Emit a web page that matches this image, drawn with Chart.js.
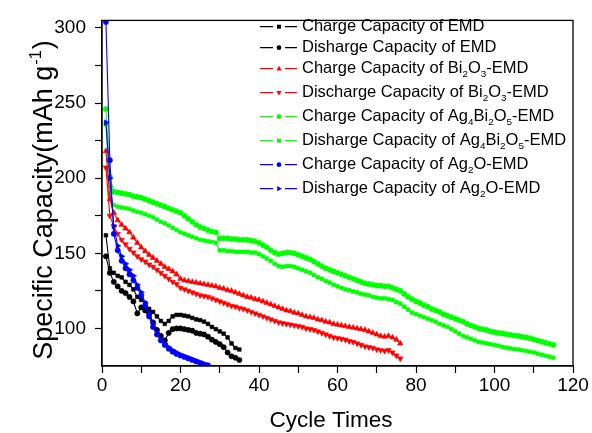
<!DOCTYPE html>
<html><head><meta charset="utf-8">
<script src="https://cdn.jsdelivr.net/npm/chart.js@4.4.1/dist/chart.umd.min.js"></script>
<style>html,body{margin:0;padding:0;background:#fff;}#wrap{width:592px;height:433px;position:relative;}</style>
</head><body>
<div id="wrap"><canvas id="c" width="592" height="433"></canvas></div>
<script>
// ---- data ----
const seriesLabels = [
  'Charge Capacity of EMD',
  'Disharge Capacity of EMD',
  'Charge Capacity of Bi₂O₃-EMD',
  'Discharge Capacity of Bi₂O₃-EMD',
  'Charge Capacity of Ag₄Bi₂O₅-EMD',
  'Disharge Capacity of Ag₄Bi₂O₅-EMD',
  'Charge Capacity of Ag₂O-EMD',
  'Disharge Capacity of Ag₂O-EMD'
];
const emdCharge = [162,140,137,135,134,131,129,126,121,119,117,113,111,108,105,103,105,108,109,109,108.5,108,107,106,105.5,104.5,103,101,99.5,98,96.5,94,90,87,86];
const emdDischarge = [148,137,131,128,125,123.5,121,118,110,114,112,110,104,99,95,92,97,99.5,100,100,99.5,99,98.5,97,96.5,96,94.5,92.5,91,89.5,87.5,84,81.5,80.5,79];
const biCharge = [218,186,177,172,169,166.5,164,160.5,157,154,151.5,149,147,145,143,141,139.5,138,136,133,132,131.5,131,130.5,130,129.5,129,128.5,128,127,126.5,125.5,125,124,123,122,121,120.5,119.5,119,118,117,116,115,114,113,112,111.5,110.5,110,109,108,107.5,107,106,105.5,104.5,104,103,102.5,102,101.5,101,100.5,100,99.5,99,98,97,96,95,94.5,95,94,92.5,90];
const biDischarge = [207,175,168,163,159,156,153,150.5,148,146,144.5,142.5,141,139,137,135,133,131,129.5,127,126,125,124,123,122,121.5,121,120,119,118,117,116,115,114.5,113.5,113,112,111,110,109,108,107,106,105,104,103.5,103,102.5,102,101.5,101,100,99.5,99,98,97,96,95,94,93.5,93,92.5,91.5,91,90,89,88,87.5,87,86,85.5,85,85.5,84,82,80];
const agBiCharge = [246,201,191,190.5,190,189.5,189,188,187.5,187,186,185,184,183,182,181,180,179,178,177,175,173,171,169,167.5,166.5,165.5,164.5,164,160,160,160,159.5,159.5,159,159,159,158.5,158,157,155.5,154,152,150.5,149.5,150,150.5,150.5,150,149,148,147,146,144.5,143,141.5,140,139,138,137,136,135,134,133,132,131,130,129.5,129,128.5,128.5,128,128,127,126,125,123,121,119.5,118,117,115.5,114.5,113,112,111,109.5,108.5,107.5,106.5,105.5,104.5,103,102,101,100,99.5,99,98,97.5,97,96.7,96.2,95.8,95.3,95,94.5,94,93.5,92.7,92,91.2,90.5,89.8,89];
const agBiDischarge = [236,190,182,181,180.5,180,179.5,178.5,177.5,177,176,175,174,172.5,171,170,168.5,167,165.5,164,163,162,161,160,159,158.5,158,157.5,157,152,152,151.5,151.5,151,151,151,151,150.5,150.5,149.5,148,146.5,145,143,141.5,141,141.5,141.5,141,140,139,138,137,135.5,134,133,131.5,130.5,129,128,127,126,125.5,124.5,124,123,122.5,122,121,120.5,120,120,119.5,119,117.5,116.5,114.5,112.5,110.5,109.5,108.5,107.5,106.5,105.5,104.5,103,102,101,99.5,98,96.5,95,94,93,92,91,90.5,90,89.5,89,88.5,87.7,87.2,86.7,86.2,86,85.5,85,84.5,84,83.2,82.5,81.8,81.2,80.5];
const agCharge = [304,212,163,152,145,140,136,132,127,122,115,108,101,96,92,89,86.5,84.5,83,82,81,80,79,78,77,76,75.5];
const agDischarge = [237,200,168,155,148,143,139,135,129,124,117,110,103,97,93,90,87.5,85.5,84,82.5,81.5,80.5,79.5,78.5,77.5,76.5,75.5];

const xTickValues = [0,10,20,30,40,50,60,70,80,90,100,110,120];
const xTickLabels = ['0','','20','','40','','60','','80','','100','','120'];
const yTickValues = [100,125,150,175,200,225,250,275,300];
const yTickLabels = ['100','','150','','200','','250','','300'];
const xTitle = 'Cycle Times';
const yTitleMain = 'Specific Capacity(mAh g';
const yTitleSup = '-1';
const yTitleTail = ')';

// ---- styling ----
const FONT = '"Liberation Sans", Arial, Helvetica, sans-serif';
const styles = [
  {color:'#000000', point:'rect', rot:0, r:2.6, order:5},
  {color:'#000000', point:'circle', rot:0, r:2.6, order:6},
  {color:'#ff0000', point:'triangle', rot:0, r:3.2, order:3},
  {color:'#ff0000', point:'triangle', rot:180, r:3.2, order:4},
  {color:'#00ff00', point:'circle', rot:0, r:2.6, order:7},
  {color:'#00ff00', point:'rect', rot:0, r:2.6, order:8},
  {color:'#0000ff', point:'circle', rot:0, r:2.6, order:1},
  {color:'#0000ff', point:'triangle', rot:90, r:3.2, order:2}
];
const allSeries = [emdCharge, emdDischarge, biCharge, biDischarge, agBiCharge, agBiDischarge, agCharge, agDischarge];

const datasets = allSeries.map((vals, k) => ({
  label: seriesLabels[k],
  data: vals.map((v, i) => ({x: i + 1, y: v})),
  borderColor: styles[k].color,
  backgroundColor: styles[k].color,
  borderWidth: 1.1,
  pointStyle: styles[k].point,
  pointRotation: styles[k].rot,
  pointRadius: styles[k].r,
  pointBorderWidth: 0.6,
  pointHoverRadius: styles[k].r,
  tension: 0,
  order: styles[k].order
}));

function drawMarker(ctx, style, rot, x, y, r, color) {
  ctx.save();
  ctx.translate(x, y);
  ctx.rotate(rot * Math.PI / 180);
  ctx.fillStyle = color;
  ctx.beginPath();
  if (style === 'circle') ctx.arc(0, 0, r, 0, Math.PI * 2);
  else if (style === 'rect') ctx.rect(-r * 0.85, -r * 0.85, r * 1.7, r * 1.7);
  else { ctx.moveTo(0, -r); ctx.lineTo(r * 0.9, r * 0.6); ctx.lineTo(-r * 0.9, r * 0.6); ctx.closePath(); }
  ctx.fill();
  ctx.restore();
}

function drawRich(ctx, text, x, y, size) {
  const subs = '₀₁₂₃₄₅₆₇₈₉';
  const runs = [];
  for (const ch of text) {
    const k = subs.indexOf(ch);
    const isSub = k >= 0;
    const c = isSub ? String(k) : ch;
    if (runs.length && runs[runs.length - 1].sub === isSub) runs[runs.length - 1].t += c;
    else runs.push({t: c, sub: isSub});
  }
  let cx = x;
  for (const run of runs) {
    if (run.sub) {
      ctx.font = (size * 0.6) + 'px ' + FONT;
      ctx.fillText(run.t, cx, y + size * 0.36);
    } else {
      ctx.font = size + 'px ' + FONT;
      ctx.fillText(run.t, cx, y);
    }
    cx += ctx.measureText(run.t).width;
  }
}

const decor = {
  id: 'decor',
  afterDraw(chart) {
    const {ctx, chartArea: a} = chart;
    ctx.save();
    // frame
    ctx.strokeStyle = '#000'; ctx.lineWidth = 1.3;
    ctx.strokeRect(a.left, a.top, a.right - a.left, a.bottom - a.top);
    ctx.fillStyle = '#000';
    // x title
    ctx.font = '22.5px ' + FONT;
    ctx.textAlign = 'center'; ctx.textBaseline = 'alphabetic';
    ctx.fillText(xTitle, 331, 427);
    // y title (rotated, with superscript)
    const ys = 27;
    ctx.textAlign = 'left';
    ctx.font = ys + 'px ' + FONT;
    const w1 = ctx.measureText(yTitleMain).width;
    const w3 = ctx.measureText(yTitleTail).width;
    ctx.font = (ys * 0.6) + 'px ' + FONT;
    const w2 = ctx.measureText(yTitleSup).width;
    const W = w1 + w2 + w3 + 2;
    ctx.save();
    ctx.translate(52, 200);
    ctx.rotate(-Math.PI / 2);
    ctx.font = ys + 'px ' + FONT;
    ctx.fillText(yTitleMain, -W / 2, 0);
    ctx.font = (ys * 0.6) + 'px ' + FONT;
    ctx.fillText(yTitleSup, -W / 2 + w1 + 1, -ys * 0.42);
    ctx.font = ys + 'px ' + FONT;
    ctx.fillText(yTitleTail, -W / 2 + w1 + w2 + 2, 0);
    ctx.restore();
    // legend
    ctx.textBaseline = 'middle';
    ctx.textAlign = 'left';
    let y = 26.7;
    chart.data.datasets.forEach((ds) => {
      ctx.strokeStyle = ds.borderColor;
      ctx.lineWidth = 1.2;
      ctx.beginPath();
      ctx.moveTo(260, y); ctx.lineTo(273, y);
      ctx.moveTo(285, y); ctx.lineTo(297, y);
      ctx.stroke();
      drawMarker(ctx, ds.pointStyle, ds.pointRotation, 279, y, ds.pointRadius * 0.9, ds.borderColor);
      ctx.fillStyle = '#000';
      drawRich(ctx, ds.label, 302, y, 16.5);
      y += /[₀-₉]/.test(ds.label) ? 24 : 21;
    });
    ctx.restore();
  }
};

Chart.defaults.font.family = FONT;
new Chart(document.getElementById('c'), {
  type: 'line',
  data: {datasets},
  options: {
    responsive: false,
    animation: false,
    events: [],
    layout: {padding: {top: 14, right: 19, left: 0, bottom: 0}},
    plugins: {legend: {display: false}, tooltip: {enabled: false}},
    scales: {
      x: {
        type: 'linear', min: 0, max: 120,
        afterBuildTicks: sc => { sc.ticks = xTickValues.map(v => ({value: v})); },
        afterFit: sc => { sc.height = 67; },
        ticks: {
          autoSkip: false, maxRotation: 0, padding: 1, color: '#000',
          font: {size: 19},
          callback: (v) => xTickLabels[xTickValues.indexOf(v)] ?? ''
        },
        grid: {drawOnChartArea: false, drawTicks: true, tickLength: 7, tickColor: '#000', tickWidth: 1.2},
        border: {display: true, color: '#000', width: 1.3}
      },
      y: {
        type: 'linear', min: 75, max: 305,
        afterBuildTicks: sc => { sc.ticks = yTickValues.map(v => ({value: v})); },
        afterFit: sc => { sc.width = 102; },
        ticks: {
          autoSkip: false, padding: 9, color: '#000',
          font: {size: 19},
          callback: (v) => yTickLabels[yTickValues.indexOf(v)] ?? ''
        },
        grid: {drawOnChartArea: false, drawTicks: true, tickLength: 7, tickColor: '#000', tickWidth: 1.2},
        border: {display: true, color: '#000', width: 1.3}
      }
    }
  },
  plugins: [decor]
});
</script>
</body></html>
